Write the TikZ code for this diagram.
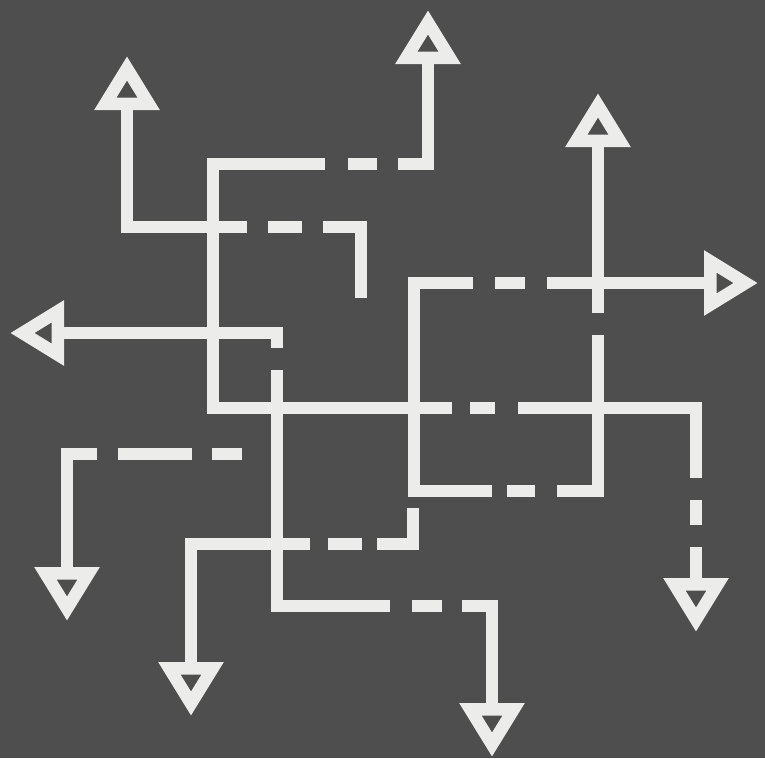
\documentclass[tikz,border=0pt]{standalone}
\usepackage{xcolor}
\usepackage{tikz}
\usetikzlibrary{arrows.meta}

\definecolor{boardgray}{RGB}{78,78,78}
\definecolor{chalkwhite}{RGB}{236,236,234}

\begin{document}
\begin{tikzpicture}[
    x=1pt, y=-1pt,
    chalkline/.style={
        draw=chalkwhite,
        line width=12.5pt,
        line cap=butt,
        line join=miter
    },
    headend/.style={
        -{Triangle[open, length=54pt, width=62pt]}
    }
]

% Board
\fill[boardgray] (0,0) rectangle (765,758);
\useasboundingbox (0,0) rectangle (765,758);

% Corners, breaks and arrow points
\foreach \name/\px/\py in {
    nwA/361/298, nwB/361/227, nwC/323/227, nwD/302/227, nwE/268/227,
    nwF/247/227, nwG/127/227, nwTip/127/56,
    spTip/428/10, spA/428/164, spB/398/164, spC/377/164, spD/348/164,
    spE/325/164, spF/213/164, spG/213/408, spH/452/408, spI/470/408,
    spJ/495/408, spK/518/408, spL/696/408, spM/696/478, spN/696/500,
    spO/696/525, spP/696/547, spTip2/696/632,
    wA/277/348, wB/277/333, wTip/10/333,
    stA/277/370, stB/277/606, stC/390/606, stD/412/606, stE/442/606,
    stF/462/606, stG/492/606, stTip/492/757,
    bxA/598/335, bxB/598/491, bxC/557/491, bxD/535/491, bxE/507/491,
    bxF/492/491, bxG/414/491, bxH/414/283, bxI/473/283, bxJ/495/283,
    bxK/525/283, bxL/547/283, bxTip/758/283,
    upA/598/313, upTip/598/93,
    swA/242/454, swB/212/454, swC/192/454, swD/118/454, swE/97/454,
    swF/67/454, swTip/67/621,
    lwA/413/508, lwB/413/544, lwC/377/544, lwD/362/544, lwE/328/544,
    lwF/310/544, lwG/191/544, lwTip/191/716}
    \coordinate (\name) at (\px,\py);

% Upper left branch
\draw[chalkline, headend] (nwA) -- (nwB) -- (nwC) (nwD) -- (nwE) (nwF) -- (nwG) -- (nwTip);

% Long branch, top and right
\draw[chalkline, headend] (spH) -- (spG) -- (spF) -- (spE) (spD) -- (spC) (spB) -- (spA) -- (spTip);
\draw[chalkline, headend] (spI) -- (spJ) (spK) -- (spL) -- (spM) (spN) -- (spO) (spP) -- (spTip2);

% Left arrow
\draw[chalkline, headend] (wA) -- (wB) -- (wTip);

% Bottom middle branch
\draw[chalkline, headend] (stA) -- (stB) -- (stC) (stD) -- (stE) (stF) -- (stG) -- (stTip);

% Box with right arrow
\draw[chalkline, headend] (bxA) -- (bxB) -- (bxC) (bxD) -- (bxE) (bxF) -- (bxG) -- (bxH) -- (bxI)
    (bxJ) -- (bxK) (bxL) -- (bxTip);
\draw[chalkline, headend] (upA) -- (upTip);

% Lower left branches
\draw[chalkline, headend] (swA) -- (swB) (swC) -- (swD) (swE) -- (swF) -- (swTip);
\draw[chalkline, headend] (lwA) -- (lwB) -- (lwC) (lwD) -- (lwE) (lwF) -- (lwG) -- (lwTip);

\end{tikzpicture}
\end{document}
